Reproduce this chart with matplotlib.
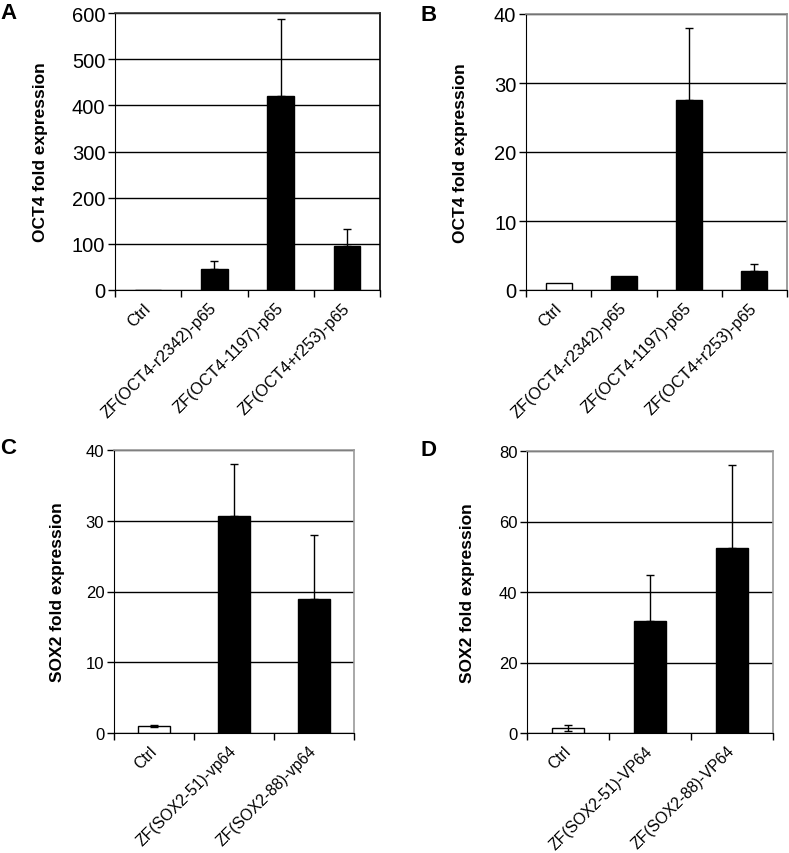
import matplotlib
matplotlib.use("Agg")
import matplotlib.pyplot as plt
import matplotlib.transforms as mtransforms
import numpy as np

plt.rcParams['font.family'] = ['Liberation Sans', 'DejaVu Sans']

# panel A: OCT4, p65 fusions
labels_a = ["Ctrl", "ZF(OCT4-r2342)-p65", "ZF(OCT4-1197)-p65", "ZF(OCT4+r253)-p65"]
values_a = [1, 45, 421, 96]
err_a = [0, 18, 166, 36]

# panel B: OCT4, second cell line
labels_b = labels_a
values_b = [1.0, 2.1, 27.6, 2.7]
err_b = [0, 0, 10.4, 1.0]

# panel C: SOX2, vp64 fusions
labels_c = ["Ctrl", "ZF(SOX2-51)-vp64", "ZF(SOX2-88)-vp64"]
values_c = [1.0, 30.7, 19.0]
err_c = [0.15, 7.3, 9.0]

# panel D: SOX2, VP64 fusions
labels_d = ["Ctrl", "ZF(SOX2-51)-VP64", "ZF(SOX2-88)-VP64"]
values_d = [1.4, 31.8, 52.5]
err_d = [0.95, 13.0, 23.4]

W, H = 789, 854


def ax_at(fig, left, top, right, bottom):
    return fig.add_axes([left / W, 1 - bottom / H, (right - left) / W, (bottom - top) / H])


def draw_panel(ax, labels, values, errs, ymax, step, ylabel, frame_color,
               tick_fs, xlab_fs, label_x, both_ctrl_err=False):
    n = len(values)
    x = np.arange(n)
    colors = ["white"] + ["black"] * (n - 1)
    ax.set_axisbelow(True)
    ax.bar(x, values, width=0.4, color=colors, edgecolor="black", linewidth=1.0, zorder=2)
    for i in range(n):
        if errs[i] <= 0:
            continue
        low = errs[i] if (i == 0 and both_ctrl_err) else 0
        ax.errorbar(x[i], values[i], yerr=[[low], [errs[i]]], fmt="none",
                    ecolor="black", elinewidth=1.0, capsize=3, capthick=1.0, zorder=3)
    ax.set_xlim(-0.5, n - 0.5)
    ax.set_ylim(0, ymax)
    ax.set_yticks(np.arange(0, ymax + step / 2, step))
    ax.yaxis.grid(True, color="black", linewidth=1.0)
    ax.xaxis.grid(False)
    ax.set_xticks(np.arange(n + 1) - 0.5)
    ax.set_xticklabels([])
    ax.set_xticks(x, minor=True)
    ax.set_xticklabels(labels, minor=True, rotation=45, ha="right", va="center",
                       rotation_mode="anchor", fontsize=xlab_fs)
    shift = mtransforms.ScaledTranslation(-4 / 100, 0, ax.figure.dpi_scale_trans)
    for t in ax.get_xticklabels(minor=True):
        t.set_transform(t.get_transform() + shift)
    ax.tick_params(axis="x", which="minor", length=0, pad=11)
    ax.tick_params(axis="x", which="major", direction="out", length=5, width=1)
    ax.tick_params(axis="y", direction="out", length=5, width=1, labelsize=tick_fs, pad=2)
    ax.set_ylabel(ylabel, fontsize=12.5, fontweight="bold")
    ax.yaxis.set_label_coords(label_x, 0.5)
    ax.spines["left"].set_color("black")
    ax.spines["bottom"].set_color("black")
    for s in ["top", "right"]:
        ax.spines[s].set_color(frame_color)
        ax.spines[s].set_linewidth(1.2)


fig = plt.figure(figsize=(W / 100, H / 100), dpi=100)

ax_a = ax_at(fig, 115, 14, 380, 291)
draw_panel(ax_a, labels_a, values_a, err_a, 600, 100, "OCT4 fold expression", "#333333",
           14.5, 11.8, -0.253)
ax_a.spines["right"].set_color("black")

ax_b = ax_at(fig, 526, 15, 787, 291)
draw_panel(ax_b, labels_b, values_b, err_b, 40, 10, "OCT4 fold expression", "#8c8c8c",
           14.5, 11.8, -0.222)

ax_c = ax_at(fig, 114, 451, 354, 734)
draw_panel(ax_c, labels_c, values_c, err_c, 40, 10, "SOX2 fold expression", "#9a9a9a",
           12, 11.3, -0.204, both_ctrl_err=True)

ax_d = ax_at(fig, 527, 452, 773, 734)
draw_panel(ax_d, labels_d, values_d, err_d, 80, 20, "SOX2 fold expression", "#9a9a9a",
           12, 11.3, -0.211, both_ctrl_err=True)

for letter, px, py in [("A", 0, 3), ("B", 420, 5), ("C", 0, 438), ("D", 420, 440)]:
    fig.text(px / W, 1 - py / H, letter, fontsize=16, fontweight="bold", ha="left", va="top")

fig.savefig("out.png", dpi=100)
